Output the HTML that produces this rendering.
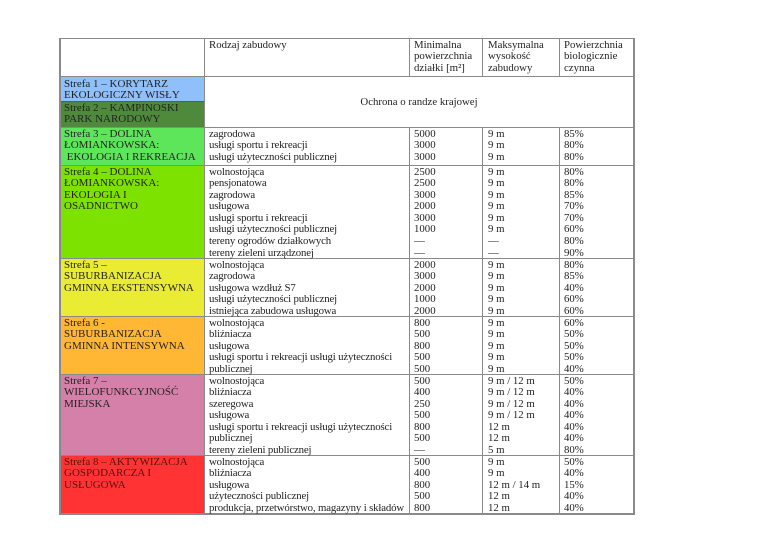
<!DOCTYPE html>
<html><head><meta charset="utf-8">
<style>
html,body{margin:0;padding:0;background:#fff;}
body{width:768px;height:543px;position:relative;overflow:hidden;font-family:"Liberation Serif",serif;font-size:10.8px;color:#222;}
.c{position:absolute;}
.t{position:absolute;line-height:11.6px;white-space:nowrap;margin-top:1.5px;}
.h{position:absolute;background:#8a8a8a;height:1px;}
.v{position:absolute;background:#8a8a8a;width:1px;}
.up{font-size:11px;}
.n{letter-spacing:-0.15px;}
</style></head><body>
<div class="c" style="left:59px;top:76px;width:145px;height:25px;background:#8fc0fb"></div>
<div class="c" style="left:59px;top:101px;width:145px;height:26px;background:#4f8a3c"></div>
<div class="c" style="left:59px;top:127px;width:145px;height:38px;background:#5ee65b"></div>
<div class="c" style="left:59px;top:165px;width:145px;height:93px;background:#7de200"></div>
<div class="c" style="left:59px;top:258px;width:145px;height:58px;background:#e9ec33"></div>
<div class="c" style="left:59px;top:316px;width:145px;height:58px;background:#ffb734"></div>
<div class="c" style="left:59px;top:374px;width:145px;height:81px;background:#d480a8"></div>
<div class="c" style="left:59px;top:455px;width:145px;height:58px;background:#ff3333"></div>

<div class="h" style="left:59px;top:38px;width:575px"></div>
<div class="h" style="left:59px;top:76px;width:575px"></div>
<div class="h" style="left:59px;top:101px;width:145px;background:#5a5a5a"></div>
<div class="h" style="left:59px;top:127px;width:575px"></div>
<div class="h" style="left:59px;top:165px;width:575px"></div>
<div class="h" style="left:59px;top:258px;width:575px"></div>
<div class="h" style="left:59px;top:316px;width:575px"></div>
<div class="h" style="left:59px;top:374px;width:575px"></div>
<div class="h" style="left:59px;top:455px;width:575px"></div>
<div class="h" style="left:59px;top:513px;width:575px;height:2px"></div>
<div class="v" style="left:59px;top:38px;height:477px;width:2px"></div>
<div class="v" style="left:204px;top:38px;height:477px"></div>
<div class="v" style="left:409px;top:38px;height:38px"></div>
<div class="v" style="left:409px;top:127px;height:388px"></div>
<div class="v" style="left:482px;top:38px;height:38px"></div>
<div class="v" style="left:482px;top:127px;height:388px"></div>
<div class="v" style="left:559px;top:38px;height:38px"></div>
<div class="v" style="left:559px;top:127px;height:388px"></div>
<div class="v" style="left:633px;top:38px;height:477px;width:2px"></div>

<div class="t" style="left:209px;top:38px">Rodzaj zabudowy</div>
<div class="t" style="left:414px;top:38px">Minimalna<br>powierzchnia<br>działki [m²]</div>
<div class="t" style="left:488px;top:38px">Maksymalna<br>wysokość<br>zabudowy</div>
<div class="t" style="left:564px;top:38px">Powierzchnia<br>biologicznie<br>czynna</div>
<div class="t" style="left:205px;width:428px;text-align:center;top:95px">Ochrona o randze krajowej</div>

<div class="t up" style="left:64px;top:77px">Strefa 1 – KORYTARZ<br>EKOLOGICZNY WISŁY</div>
<div class="t up" style="left:64px;top:101px">Strefa 2 – KAMPINOSKI<br>PARK NARODOWY</div>
<div class="t up" style="left:64px;top:127px">Strefa 3 – DOLINA<br>ŁOMIANKOWSKA:<br>&nbsp;EKOLOGIA I REKREACJA</div>
<div class="t up" style="left:64px;top:165px">Strefa 4 – DOLINA<br>ŁOMIANKOWSKA:<br>EKOLOGIA I<br>OSADNICTWO</div>
<div class="t up" style="left:64px;top:258px">Strefa 5 –<br>SUBURBANIZACJA<br>GMINNA EKSTENSYWNA</div>
<div class="t up" style="left:64px;top:316px">Strefa 6 -<br>SUBURBANIZACJA<br>GMINNA INTENSYWNA</div>
<div class="t up" style="left:64px;top:374px">Strefa 7 –<br>WIELOFUNKCYJNOŚĆ<br>MIEJSKA</div>
<div class="t up" style="left:64px;top:455px;color:#5a1010">Strefa 8 – AKTYWIZACJA<br>GOSPODARCZA I<br>USŁUGOWA</div>

<div class="t n" style="left:209px;top:127px">zagrodowa<br>usługi sportu i rekreacji<br>usługi użyteczności publicznej</div>
<div class="t n" style="left:209px;top:165px">wolnostojąca<br>pensjonatowa<br>zagrodowa<br>usługowa<br>usługi sportu i rekreacji<br>usługi użyteczności publicznej<br>tereny ogrodów działkowych<br>tereny zieleni urządzonej</div>
<div class="t n" style="left:209px;top:258px">wolnostojąca<br>zagrodowa<br>usługowa wzdłuż S7<br>usługi użyteczności publicznej<br>istniejąca zabudowa usługowa</div>
<div class="t n" style="left:209px;top:316px">wolnostojąca<br>bliźniacza<br>usługowa<br>usługi sportu i rekreacji usługi użyteczności<br>publicznej</div>
<div class="t n" style="left:209px;top:374px">wolnostojąca<br>bliźniacza<br>szeregowa<br>usługowa<br>usługi sportu i rekreacji usługi użyteczności<br>publicznej<br>tereny zieleni publicznej</div>
<div class="t n" style="left:209px;top:455px">wolnostojąca<br>bliźniacza<br>usługowa<br>użyteczności publicznej<br>produkcja, przetwórstwo, magazyny i składów</div>

<div class="t" style="left:414px;top:127px">5000<br>3000<br>3000</div>
<div class="t" style="left:414px;top:165px">2500<br>2500<br>3000<br>2000<br>3000<br>1000<br>—<br>—</div>
<div class="t" style="left:414px;top:258px">2000<br>3000<br>2000<br>1000<br>2000</div>
<div class="t" style="left:414px;top:316px">800<br>500<br>800<br>500<br>500</div>
<div class="t" style="left:414px;top:374px">500<br>400<br>250<br>500<br>800<br>500<br>—</div>
<div class="t" style="left:414px;top:455px">500<br>400<br>800<br>500<br>800</div>

<div class="t" style="left:488px;top:127px">9 m<br>9 m<br>9 m</div>
<div class="t" style="left:488px;top:165px">9 m<br>9 m<br>9 m<br>9 m<br>9 m<br>9 m<br>—<br>—</div>
<div class="t" style="left:488px;top:258px">9 m<br>9 m<br>9 m<br>9 m<br>9 m</div>
<div class="t" style="left:488px;top:316px">9 m<br>9 m<br>9 m<br>9 m<br>9 m</div>
<div class="t" style="left:488px;top:374px">9 m / 12 m<br>9 m / 12 m<br>9 m / 12 m<br>9 m / 12 m<br>12 m<br>12 m<br>5 m</div>
<div class="t" style="left:488px;top:455px">9 m<br>9 m<br>12 m / 14 m<br>12 m<br>12 m</div>

<div class="t" style="left:564px;top:127px">85%<br>80%<br>80%</div>
<div class="t" style="left:564px;top:165px">80%<br>80%<br>85%<br>70%<br>70%<br>60%<br>80%<br>90%</div>
<div class="t" style="left:564px;top:258px">80%<br>85%<br>40%<br>60%<br>60%</div>
<div class="t" style="left:564px;top:316px">60%<br>50%<br>50%<br>50%<br>40%</div>
<div class="t" style="left:564px;top:374px">50%<br>40%<br>40%<br>40%<br>40%<br>40%<br>80%</div>
<div class="t" style="left:564px;top:455px">50%<br>40%<br>15%<br>40%<br>40%</div>
</body></html>
